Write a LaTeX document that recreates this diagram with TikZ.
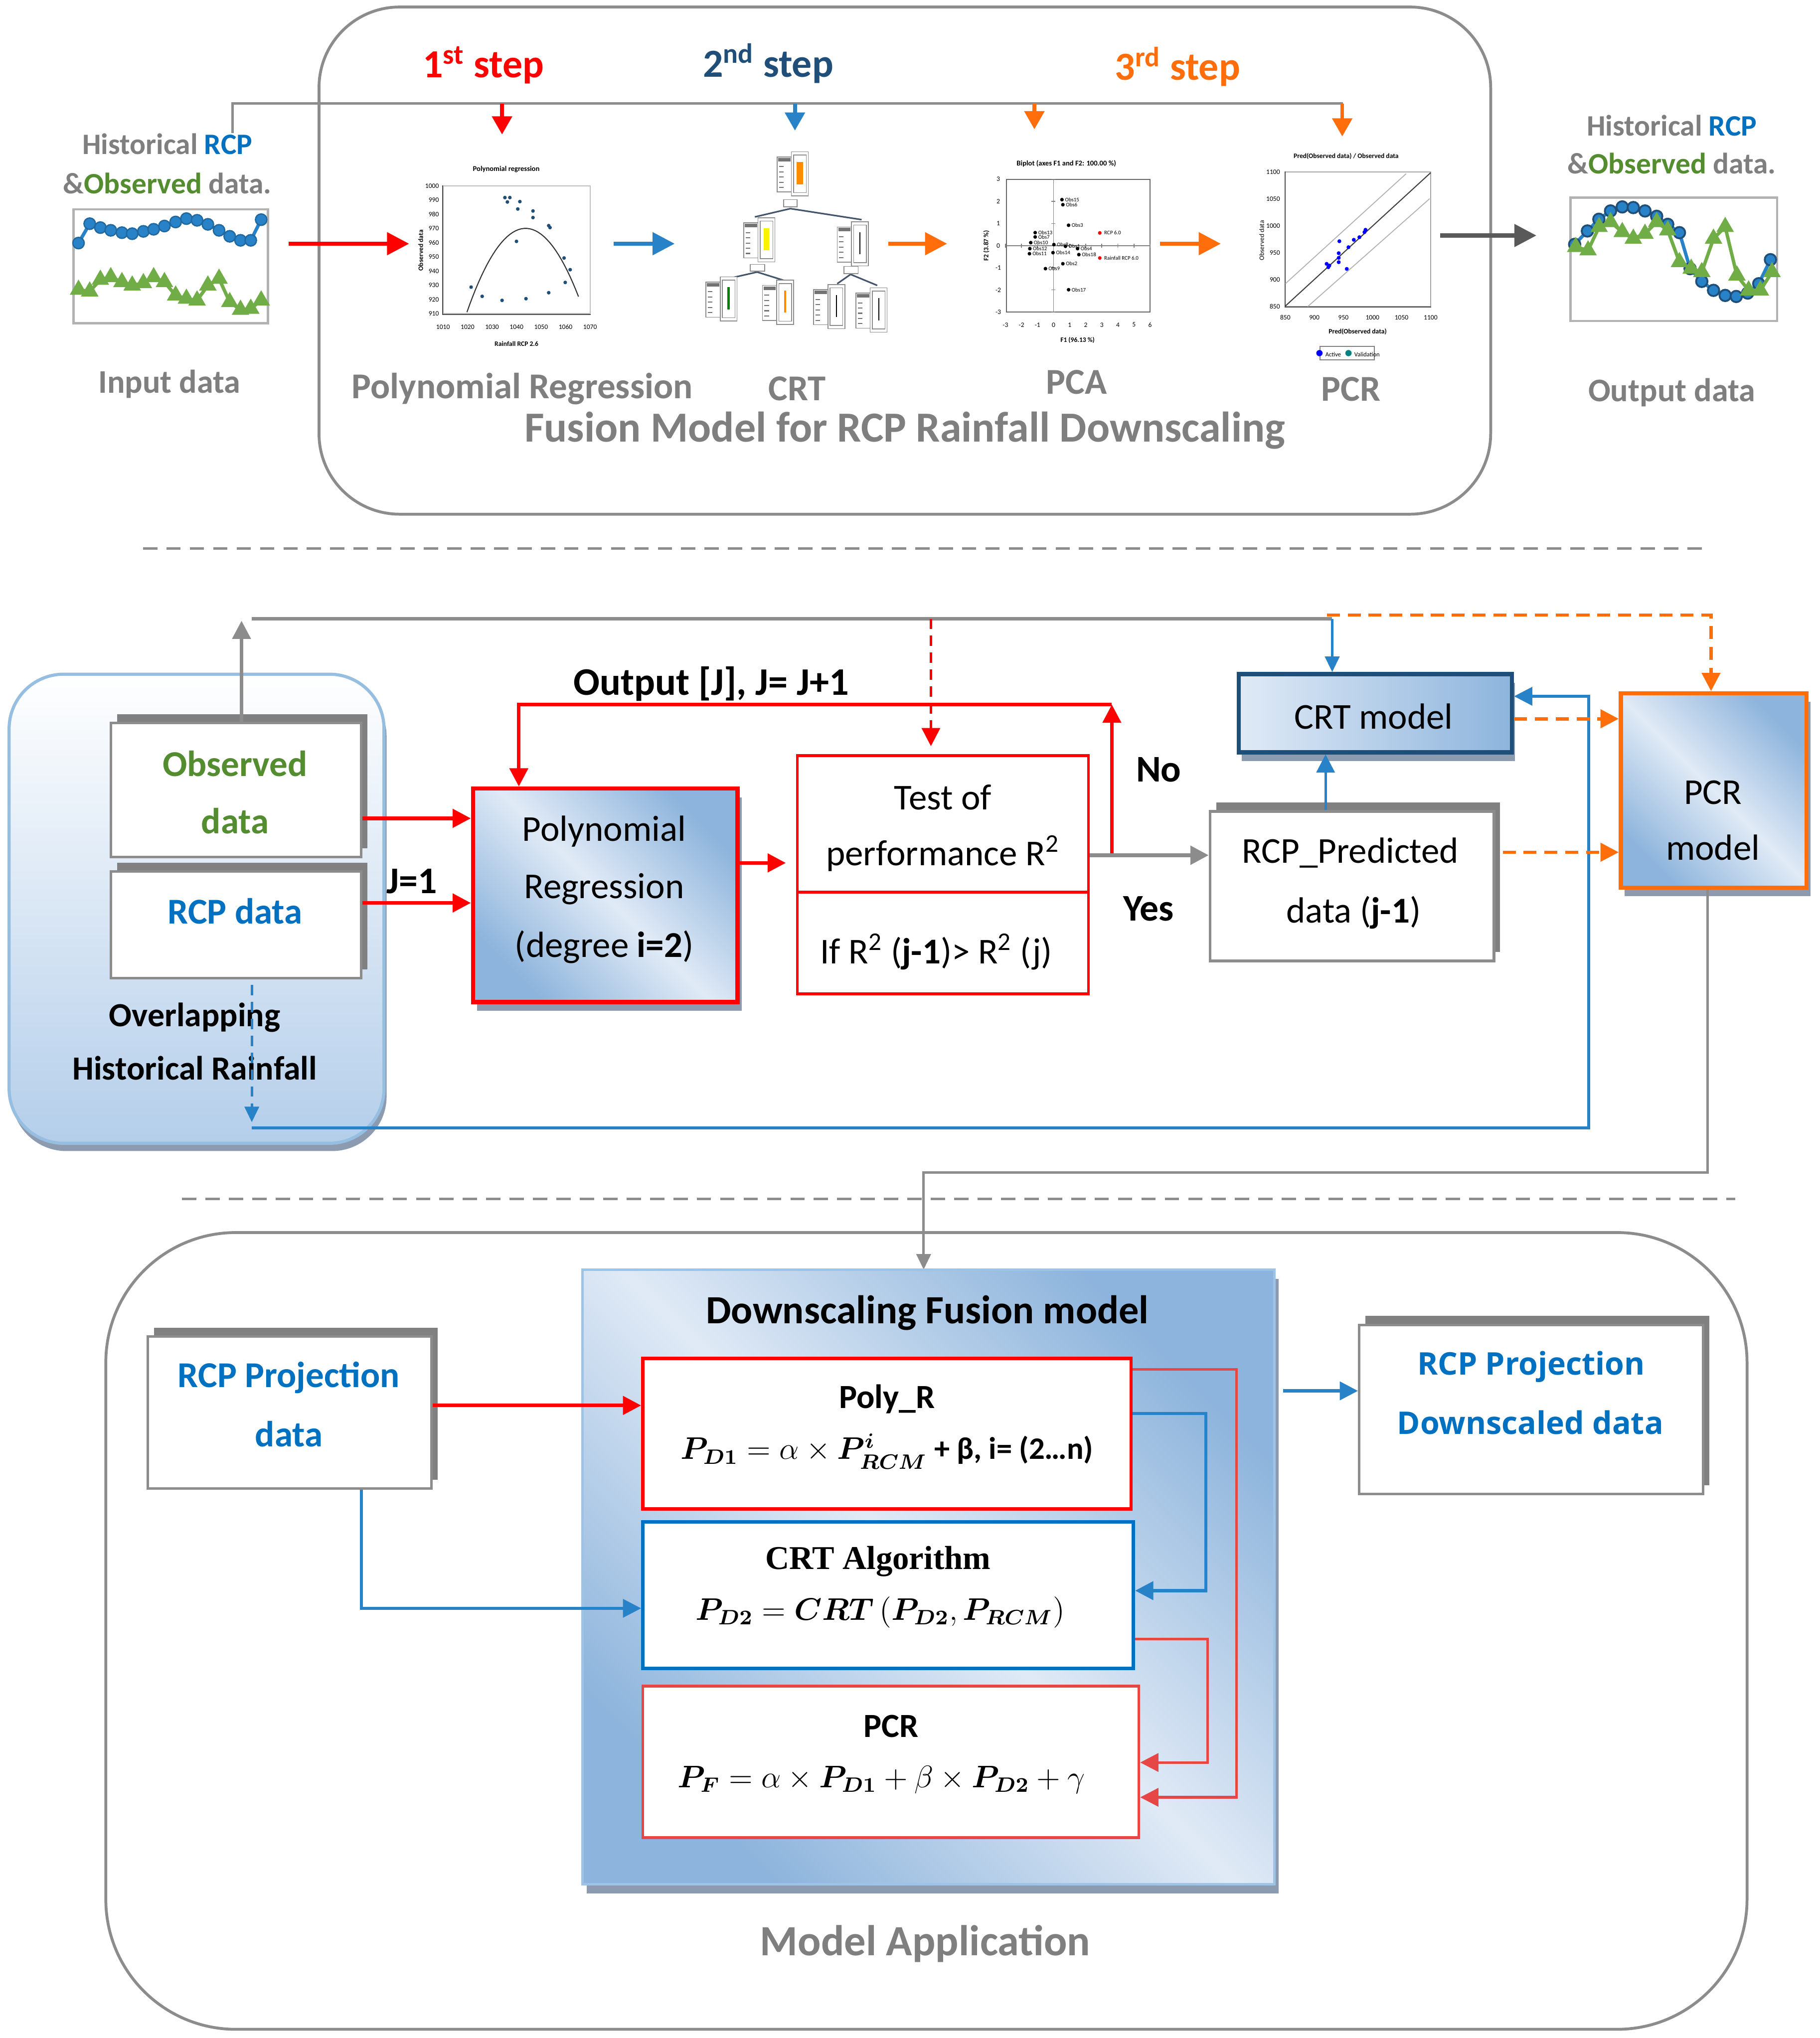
\documentclass[tikz,border=0pt]{standalone}
\usepackage{fontspec}
\setmainfont{Carlito}
\newfontfamily\segoe{Open Sans}
\newfontfamily\cambria{Liberation Serif}
\usetikzlibrary{arrows.meta,shadows,plotmarks,fit}
\definecolor{cred}{RGB}{255,0,0}
\definecolor{lred}{RGB}{230,70,70}
\definecolor{cblue}{RGB}{0,112,192}
\definecolor{ablue}{RGB}{40,130,200}
\definecolor{navy}{RGB}{31,78,121}
\definecolor{corange}{RGB}{255,110,10}
\definecolor{cgreen}{RGB}{84,140,48}
\definecolor{tgreen}{RGB}{112,173,71}
\definecolor{tgray}{RGB}{127,127,127}
\definecolor{lgray}{RGB}{140,140,140}
\definecolor{sgray}{RGB}{128,128,128}
\definecolor{shblue}{RGB}{140,155,175}
\definecolor{gdark}{RGB}{141,180,220}
\definecolor{glight}{RGB}{224,234,246}
\definecolor{bborder}{RGB}{150,190,225}
\definecolor{bbot}{RGB}{180,206,234}
\definecolor{fborder}{RGB}{157,195,230}
\definecolor{treeline}{RGB}{68,84,106}
\newcommand\bP[1]{\mbox{\boldmath$#1$}}
\newcommand\fz[1]{\fontsize{#1}{#1}\selectfont}
\tikzset{
  wbox/.style={draw=lgray, line width=1pt, fill=white, inner sep=0pt},
  shUR/.style={drop shadow={shadow xshift=2.4pt, shadow yshift=3.4pt, fill=sgray, opacity=1}},
  shDR/.style={drop shadow={shadow xshift=1.6pt, shadow yshift=-3.2pt, fill=shblue, opacity=1}},
  grad/.style={top color=gdark, bottom color=gdark, middle color=glight, shading angle=-45},
  lbl/.style={inner sep=0pt},
  arr/.style={-{Triangle[length=7pt,width=7pt]}},
  bigarr/.style={-{Triangle[length=8.5pt,width=8.5pt]}},
  sarr/.style={-{Triangle[length=6pt,width=5.5pt]}},
  leafline/.style={draw=black!45, line width=0.3pt, fill=white},
  tinytxt/.style={inner sep=0pt, font=\fz{2.6}},
}
\newcommand\crtleaf[4]{%
  \begin{scope}[shift={(#1,#2)}]
    \draw[leafline] (0,0) rectangle (11,27);
    \fill[black!55] (0.8,0.8) rectangle (10.2,3.4);
    \foreach \yy in {7.5,11.5,15.5,19.5,23.5}{\draw[black!55,line width=0.4pt] (1.5,\yy) -- (5,\yy);}
    \draw[leafline] (11,-4) rectangle (24,30);
    \draw[leafline] (12.6,-1.5) rectangle (22.4,27.5);
    \fill[#3] ({17.5-#4/2},4) rectangle ({17.5+#4/2},21);
  \end{scope}}
\begin{document}
\begin{tikzpicture}[x=0.5pt,y=-0.5pt]
\useasboundingbox (0,0) rectangle (1400,1568);
\fill[white] (0,0) rectangle (1400,1568);
% ================= TOP =================
\node[fit={(245.4,5.4) (1146.7,395.6)}, inner sep=0pt, draw=lgray, line width=1.1pt, rounded corners=31pt] (topframe) {};
% input data
\node[lbl, font=\bfseries\fz{11.4}, text=tgray] (hin1) at (128.7,110.9) {Historical \textcolor{cblue}{RCP}};
\node[lbl, font=\bfseries\fz{11.4}, text=tgray] (hin2) at (128.7,141.2) {\&\textcolor{cgreen}{Observed} data.};
\node[fit={(56.6,161) (206,248.6)}, inner sep=0pt, draw=black!30, line width=0.9pt] (inplot) {};
\draw[ablue, line width=1.3pt] plot[mark=*, mark size=2.2pt, mark options={fill=ablue, draw=ablue!80!black, line width=0.5pt}] coordinates {(60.4,187.0) (69.0,172.1) (77.2,175.1) (85.2,177.2) (93.8,179.0) (101.7,179.8) (110.3,178.0) (118.2,176.4) (126.5,173.9) (135.1,170.8) (143.4,168.2) (151.6,169.5) (159.9,172.6) (168.5,177.2) (176.7,181.8) (185.0,184.9) (192.9,184.9) (200.9,169.0)};
\draw[tgreen, line width=1.3pt] plot[mark=triangle*, mark size=2.6pt, mark options={fill=tgreen}] coordinates {(60.4,222.9) (69.0,224.2) (77.2,215.2) (85.2,213.2) (93.8,217.0) (101.7,219.6) (110.3,217.8) (118.2,213.2) (126.5,217.0) (135.1,227.3) (143.4,229.8) (151.6,231.1) (159.9,219.6) (168.5,214.4) (176.7,232.4) (185.0,238.3) (192.9,237.5) (200.9,231.1)};
\node[lbl, font=\bfseries\fz{12.7}, text=tgray] (inlbl) at (130.3,295.3) {Input data};
% step labels and top bracket
\node[lbl, font=\bfseries\fz{15.3}, text=cred] (s1) at (371.9,50.1) {1\textsuperscript{st} step};
\node[lbl, font=\bfseries\fz{15.3}, text=navy] (s2) at (590.9,48.8) {2\textsuperscript{nd} step};
\node[lbl, font=\bfseries\fz{15.3}, text=corange] (s3) at (905.9,51.4) {3\textsuperscript{rd} step};
\coordinate (br0) at (179,102.2);
\coordinate (br1) at (179,79.6);
\coordinate (br2) at (1032.9,79.6);
\draw[lgray, line width=1pt] (br0) -- (br1) -- (br2);
\coordinate (d1a) at (386.2,79.6); \coordinate (d1b) at (386.2,103.5);
\coordinate (d2a) at (611.5,79.6); \coordinate (d2b) at (611.5,100.5);
\coordinate (d3a) at (795.7,79.6); \coordinate (d3b) at (795.7,99.5);
\coordinate (d4a) at (1032.5,79.6); \coordinate (d4b) at (1032.5,105);
\draw[cred, line width=1.5pt, -{Triangle[length=7pt,width=7.5pt]}] (d1a) -- (d1b);
\draw[ablue, line width=1.5pt, -{Triangle[length=7pt,width=7.5pt]}] (d2a) -- (d2b);
\draw[corange, line width=1.5pt, -{Triangle[length=7pt,width=7.5pt]}] (d3a) -- (d3b);
\draw[corange, line width=1.5pt, -{Triangle[length=7pt,width=7.5pt]}] (d4a) -- (d4b);
% arrow input -> poly plot
\coordinate (ra1) at (221.9,187.5); \coordinate (ra2) at (314.7,187.5);
\draw[cred, line width=1.6pt, bigarr] (ra1) -- (ra2);
% polynomial regression chart
\node[fit={(340.8,143) (453.9,241.4)}, inner sep=0pt, draw=black!25, line width=0.4pt] (pplot) {};
\draw[black!70, line width=0.4pt] (pplot.north west) -- (pplot.south west) -- (pplot.south east);
\node[tinytxt, font=\bfseries\fz{2.8}] (pplott) at (389.4,130.2) {Polynomial regression};
\foreach \v [count=\i from 0] in {1000,990,980,970,960,950,940,930,920,910} \node[tinytxt, anchor=east] (ppy\i) at (338,143+\i*10.93) {\v};
\foreach \v [count=\i from 0] in {1010,1020,1030,1040,1050,1060,1070} \node[tinytxt] (ppx\i) at (340.8+\i*18.85,251.7) {\v};
\node[tinytxt, font=\bfseries\fz{2.6}, rotate=90] (ppyt) at (323.6,192.6) {Observed data};
\node[tinytxt, font=\bfseries\fz{2.6}] (ppxt) at (397.3,264.5) {Rainfall RCP 2.6};
\draw[black!80, line width=0.4pt] plot[domain=359.2:445, samples=40] (\x,{175.7+0.0317*(\x-404.3)*(\x-404.3)});
\foreach \px/\py in {362.4/220.9,370.9/228.0,386.2/231.1,388.4/152.0,390.3/155.4,392.2/152.0,397.3/185.7,398.3/160.8,399.9/155.1,404.6/229.8,410.0/162.3,410.0/167.4,422.1/173.6,423.1/175.1,422.1/225.2,433.9/198.5,434.8/217.3,438.6/207.5} \fill[navy] (\px,\py) circle (0.7pt);
% arrow -> CRT
\coordinate (ba1) at (472,187.5); \coordinate (ba2) at (519,187.5);
\draw[ablue, line width=1.6pt, bigarr] (ba1) -- (ba2);
% CRT tree
\draw[treeline, line width=0.6pt] (608,160.5) -- (580.7,166.9) (608,160.5) -- (662.8,169);
\draw[treeline, line width=0.6pt] (582.4,209.3) -- (560.1,214.4) (582.4,209.3) -- (602.9,215.7);
\draw[treeline, line width=0.6pt] (654.3,211.1) -- (644,218.3) (654.3,211.1) -- (674.8,219.6);
\draw[leafline] (602.9,153.6) rectangle (613.2,159.2);
\draw[leafline] (577.2,203.4) rectangle (588.2,208.5);
\draw[leafline] (649.1,204.9) rectangle (660.1,210.6);
\crtleaf{597.8}{120.7}{orange!90!yellow}{5}
\crtleaf{572.1}{171.5}{yellow}{4}
\crtleaf{644}{174.6}{black}{0.8}
\crtleaf{543}{217}{green!50!black}{1.8}
\crtleaf{586.5}{219.6}{orange!90!yellow}{1.8}
\crtleaf{625.9}{222.9}{black}{0.8}
\crtleaf{658.4}{225.5}{black}{0.8}
% arrow -> PCA
\coordinate (oa1) at (683.4,187.5); \coordinate (oa2) at (728.6,187.5);
\draw[corange, line width=1.6pt, bigarr] (oa1) -- (oa2);
% PCA biplot
\node[fit={(774.1,137.9) (884.7,240.1)}, inner sep=0pt, draw=black!60, line width=0.4pt] (pcaplot) {};
\node[tinytxt, font=\bfseries\fz{2.8}] (pcat) at (820.3,125.8) {Biplot (axes F1 and F2: 100.00 \%)};
\draw[black!50, line width=0.3pt] (810.4,137.9) -- (810.4,240.1);
\draw[black!50, line width=0.3pt] (774.1,189) -- (884.7,189);
\foreach \i in {0,...,9} \draw[black!50, line width=0.3pt] (773.4+\i*12.36,187.5) -- ++(0,3);
\foreach \i in {0,...,6} \draw[black!50, line width=0.3pt] (808.9,137.9+\i*17.03) -- ++(3,0);
\foreach \v [count=\i from 0] in {3,2,1,0,-1,-2,-3} \node[tinytxt] (pcay\i) at (767.9,137.9+\i*17.03) {\v};
\foreach \v [count=\i from 0] in {-3,-2,-1,0,1,2,3,4,5,6} \node[tinytxt] (pcax\i) at (773.4+\i*12.36,249.9) {\v};
\node[tinytxt, font=\bfseries\fz{2.6}] (pcaxt) at (828.9,261.9) {F1 (96.13 \%)};
\node[tinytxt, font=\bfseries\fz{2.6}, rotate=90] (pcayt) at (758.7,189) {F2 (3.87 \%)};
\foreach \px/\py/\tt [count=\k] in {816.9/153.6/Obs15,817.6/157.5/Obs6,822/173.3/Obs3,796.3/179/Obs13,796.3/182.3/Obs7,792.9/186.7/Obs10,792.2/191.3/Obs12,791.9/195.2/Obs11,810/194.4/Obs14,810.7/188.2/Obs8,819.6/189.5/Obs1,828.9/191.3/Obs4,829.9/195.9/Obs18,817.6/202.9/Obs2,804.2/206.7/Obs9,822/222.9/Obs17} {\fill[black] (\px,\py) circle (0.7pt); \node[tinytxt, font=\fz{2.1}, anchor=west] (pcal\k) at (\px+2,\py) {\tt};}
\foreach \px/\py/\tt [count=\k] in {846/179.2/RCP 6.0,846/198.5/Rainfall RCP 6.0} {\fill[red] (\px,\py) circle (0.7pt); \node[tinytxt, font=\fz{2.1}, anchor=west] (pcar\k) at (\px+3,\py) {\tt};}
% arrow -> PCR
\coordinate (ob1) at (892.2,187.5); \coordinate (ob2) at (939.1,187.5);
\draw[corange, line width=1.6pt, bigarr] (ob1) -- (ob2);
% PCR chart
\node[fit={(988.7,132.3) (1100.5,235.9)}, inner sep=0pt, draw=black!35, line width=0.3pt] (pcrplot) {};
\draw[black!70, line width=0.4pt] (pcrplot.north west) -- (pcrplot.south west) -- (pcrplot.south east);
\node[tinytxt, font=\bfseries\fz{2.6}] (pcrt) at (1035.5,120.3) {Pred(Observed data) / Observed data};
\foreach \v [count=\i from 0] in {1100,1050,1000,950,900,850} \node[tinytxt, anchor=east] (pcry\i) at (985,132.3+\i*20.7) {\v};
\foreach \v [count=\i from 0] in {850,900,950,1000,1050,1100} \node[tinytxt] (pcrx\i) at (988.7+\i*22.36,244.2) {\v};
\node[tinytxt, font=\bfseries\fz{2.6}] (pcrxt) at (1044.4,255.2) {Pred(Observed data)};
\node[tinytxt, font=\fz{2.6}, rotate=90] (pcryt) at (970.5,185) {Observed data};
\draw[black!75, line width=0.4pt] (988.7,235.5) -- (1100.5,132.9);
\draw[black!30, line width=0.35pt] (988.7,218.3) -- (1081.7,133.6);
\draw[black!30, line width=0.35pt] (1005.9,235.9) -- (1099.7,152.9);
\foreach \px/\py in {1020.5/203,1021.8/205.6,1022.6/204.3,1030.3/185.6,1029.8/194.8,1029.8/198.4,1029.8/201.7,1037.3/190.2,1041.4/184.5,1045.7/182.5,1049.6/178.6,1050.4/176.8,1036/206.9} \fill[blue] (\px,\py) circle (0.75pt);
\node[fit={(1015.4,266.5) (1057.3,277)}, inner sep=0pt, draw=black!50, line width=0.4pt] (pcrleg) {};
\node[tinytxt, font=\fz{2.4}] (pcrlegt) at (pcrleg.center) {\textcolor{blue}{$\bullet$}\,Active\ \ \textcolor{teal}{$\bullet$}\,Validation};
% arrow -> output
\coordinate (ga1) at (1107.9,181.2); \coordinate (ga2) at (1181.9,181.2);
\draw[black!65, line width=1.6pt, bigarr] (ga1) -- (ga2);
% output data
\node[lbl, font=\bfseries\fz{11.4}, text=tgray] (hout1) at (1286,96.4) {Historical \textcolor{cblue}{RCP}};
\node[lbl, font=\bfseries\fz{11.4}, text=tgray] (hout2) at (1286,125.9) {\&\textcolor{cgreen}{Observed} data.};
\node[fit={(1208,152) (1367,247)}, inner sep=0pt, draw=black!30, line width=0.9pt] (outplot) {};
\draw[ablue, line width=1.3pt] plot[mark=*, mark size=2.2pt, mark options={fill=ablue, draw=navy, line width=0.7pt}] coordinates {(1211.3,188.0) (1221.1,177.7) (1229.9,168.7) (1238.9,162.3) (1247.9,159.2) (1256.4,159.7) (1265.4,162.3) (1274.4,166.4) (1282.9,172.6) (1291.9,179.0) (1300.1,206.7) (1309.1,216.5) (1318.1,223.4) (1327.1,227.3) (1335.6,228.1) (1344.4,225.5) (1352.9,218.3) (1361.9,199.8)};
\draw[tgreen, line width=1.3pt] plot[mark=triangle*, mark size=2.6pt, mark options={fill=tgreen}] coordinates {(1212.1,190.0) (1221.6,192.6) (1230.1,174.6) (1238.9,170.8) (1247.9,178.5) (1256.4,183.6) (1265.4,179.8) (1274.4,170.8) (1282.9,177.2) (1291.9,201.6) (1300.9,206.7) (1309.1,209.3) (1318.1,183.6) (1327.1,174.6) (1336.1,211.9) (1345.1,223.4) (1354.1,223.4) (1363.1,209.3)};
\node[lbl, font=\bfseries\fz{12.7}, text=tgray] (outlbl) at (1286,302) {Output data};
% method labels
\node[lbl, font=\bfseries\fz{14}, text=tgray] (lpr) at (401.7,299.2) {Polynomial Regression};
\node[lbl, font=\bfseries\fz{14}, text=tgray] (lcrt) at (613.2,299.2) {CRT};
\node[lbl, font=\bfseries\fz{14}, text=tgray] (lpca) at (828.2,294) {PCA};
\node[lbl, font=\bfseries\fz{14}, text=tgray] (lpcr) at (1039.3,299.4) {PCR};
\node[lbl, font=\bfseries\fz{16.5}, text=tgray] (lfus) at (696,331.3) {Fusion Model for RCP Rainfall Downscaling};
% separator 1
\coordinate (sp1a) at (110,422); \coordinate (sp1b) at (1310,422);
\draw[lgray, line width=0.9pt, dash pattern=on 5.5pt off 3.5pt] (sp1a) -- (sp1b);
% ================= MIDDLE =================
\node[fit={(7,518.7) (295.4,879.6)}, inner sep=0pt, draw=bborder, line width=1.2pt, rounded corners=21pt, top color=white, bottom color=bbot, drop shadow={shadow xshift=1pt, shadow yshift=-3pt, fill=shblue, opacity=1}] (hist) {};
\node[wbox, shUR, fit={(85.3,556.2) (277.8,659.5)}] (obs) {};
\node[lbl, font=\bfseries\fz{14}, text=cgreen] (obs1) at (180.8,587.6) {Observed};
\node[lbl, font=\bfseries\fz{14}, text=cgreen] (obs2) at (180.8,631.6) {data};
\node[wbox, shUR, fit={(85.3,670.4) (277.8,752.5)}] (rcpd) {};
\node[lbl, font=\bfseries\fz{14}, text=cblue] (rcpd1) at (180.8,701.2) {RCP data};
\node[lbl, font=\bfseries\fz{13}] (ovl1) at (149.8,782.7) {Overlapping};
\node[lbl, font=\bfseries\fz{13}] (ovl2) at (149.8,821.8) {Historical Rainfall};
% polynomial regression box
\node[grad, draw=cred, line width=1.6pt, inner sep=0pt, fit={(363.8,606.7) (567.3,771)}, drop shadow={shadow xshift=1.6pt, shadow yshift=-3.4pt, fill=shblue, opacity=1}] (poly) {};
\node[lbl, font=\fz{14}] (poly1) at (464.8,639.5) {Polynomial};
\node[lbl, font=\fz{14}] (poly2) at (464.8,683.9) {Regression};
\node[lbl, font=\fz{14}] (poly3) at (464.8,728.5) {(degree \textbf{i=2})};
% test box
\node[draw=cred, line width=1.1pt, fill=white, inner sep=0pt, fit={(613.3,581.2) (837.3,764.6)}] (test) {};
\coordinate (dv) at (0,686.5);
\draw[cred, line width=1.1pt] (test.west |- dv) -- (test.east |- dv);
\node[lbl, font=\fz{14}] (test1) at (725.3,613.4) {Test of};
\node[lbl, font=\fz{14}] (test2) at (725.3,656.6) {performance R\textsuperscript{2}};
\node[lbl, font=\fz{14}] (test3) at (720.2,732.3) {If R\textsuperscript{2} (\textbf{j-1})> R\textsuperscript{2} (j)};
% predicted box
\node[wbox, shUR, fit={(930.8,624.3) (1149.2,739.3)}] (pred) {};
\node[lbl, font=\fz{14}] (pred1) at (1038.7,656) {RCP\_Predicted};
\node[lbl, font=\fz{14}] (pred2) at (1041.3,702.1) {data (\textbf{j-1})};
% CRT model
\node[left color=glight, right color=gdark, draw=navy, line width=1.6pt, inner sep=0pt, fit={(952.9,518.7) (1163.1,578.8)}, drop shadow={shadow xshift=1.2pt, shadow yshift=-3.3pt, fill=shblue, opacity=1}] (crt) {};
\node[lbl, font=\fz{14}] (crt1) at (1056.7,551) {CRT model};
% PCR model
\node[grad, draw=corange, line width=1.6pt, inner sep=0pt, fit={(1246.8,533.3) (1389.6,683)}, drop shadow={shadow xshift=1.5pt, shadow yshift=-3.3pt, fill=shblue, opacity=1}] (pcrm) {};
\node[lbl, font=\fz{14}] (pcrm1) at (1317.7,609.6) {PCR};
\node[lbl, font=\fz{14}] (pcrm2) at (1317.7,652.2) {model};
% labels
\node[lbl, font=\bfseries\fz{15}] (outj) at (547,526) {Output [J], J= J+1};
\node[lbl, font=\bfseries\fz{14.5}] (j1l) at (316.9,678) {J=1};
\node[lbl, font=\bfseries\fz{14.5}] (nol) at (891.3,592) {No};
\node[lbl, font=\bfseries\fz{14.5}] (yesl) at (883.5,699.1) {Yes};
% middle connectors
\coordinate (gup) at (185.8,477.6);
\draw[lgray, line width=1.3pt, arr] (obs.north -| gup) -- (gup);
\coordinate (gl1) at (193.7,476.1); \coordinate (gl2) at (1024.8,476.1);
\draw[lgray, line width=1.2pt] (gl1) -- (gl2);
\draw[ablue, line width=1pt, sarr] (gl2) -- (crt.north -| gl2);
\coordinate (or1) at (1020.7,473.2); \coordinate (or2) at (1316.2,473.2);
\draw[corange, line width=1.2pt, dash pattern=on 5pt off 3pt, arr] (or1) -- (or2) -- (pcrm.north -| or2);
\coordinate (rd1) at (716.1,476.1);
\draw[cred, line width=1pt, dash pattern=on 4pt off 2.5pt, arr] (rd1) -- ([yshift=3pt]test.north -| rd1);
\coordinate (bd1) at (193.7,757.8); \coordinate (bd2) at (193.7,863.4);
\draw[ablue, line width=1pt, dash pattern=on 4pt off 2.5pt, sarr] (bd1) -- (bd2);
\coordinate (bl1) at (193.7,867.8); \coordinate (bl2) at (1222.1,867.8); \coordinate (bl3) at (1222.1,535.7);
\draw[ablue, line width=1pt, arr] (bl1) -- (bl2) -- (bl3) -- (crt.east |- bl3);
\coordinate (j1) at (0,629.6); \coordinate (j2) at (0,694.7);
\draw[cred, line width=1.4pt, arr] (obs.east |- j1) -- (poly.west |- j1);
\draw[cred, line width=1.4pt, arr] (rcpd.east |- j2) -- (poly.west |- j2);
\coordinate (pt1) at (604.5,663.9);
\draw[cred, line width=1.4pt, arr] (poly.east |- pt1) -- (pt1);
\coordinate (no1) at (855.3,658); \coordinate (no2) at (855.3,542.1); \coordinate (no3) at (399.1,542.1);
\draw[cred, line width=1.3pt, arr] (no1) -- (no2);
\draw[cred, line width=1.3pt, arr] (no2) -- (no3) -- (poly.north -| no3);
\coordinate (ys) at (0,658);
\draw[lgray, line width=1.5pt, arr] (test.east |- ys) -- (pred.west |- ys);
\coordinate (pc) at (1019.7,0);
\draw[ablue, line width=1pt, arr] (pred.north -| pc) -- (crt.south -| pc);
\coordinate (oc) at (0,553);
\draw[corange, line width=1.3pt, dash pattern=on 5pt off 3pt, arr] (crt.east |- oc) -- (pcrm.west |- oc);
\coordinate (op1) at (1156,655.7);
\draw[corange, line width=1.3pt, dash pattern=on 5pt off 3pt, arr] (op1) -- (pcrm.west |- op1);
\coordinate (gd1) at (1313.6,902); \coordinate (gd2) at (710.5,902);
\draw[lgray, line width=1pt, sarr] (pcrm.south -| gd1) -- (gd1) -- (gd2) -- (710.5,976.8);
% separator 2
\coordinate (sp2a) at (140,922.3); \coordinate (sp2b) at (1334.7,922.3);
\draw[lgray, line width=0.9pt, dash pattern=on 5.5pt off 3.5pt] (sp2a) -- (sp2b);
% ================= BOTTOM =================
\node[fit={(81.4,948.3) (1343.9,1561.3)}, inner sep=0pt, draw=lgray, line width=1.1pt, rounded corners=50pt] (botframe) {};
\node[grad, draw=fborder, line width=1pt, inner sep=0pt, fit={(448.2,976.8) (980.4,1449.7)}, drop shadow={shadow xshift=1.6pt, shadow yshift=-3.6pt, fill=shblue, opacity=1}] (fusion) {};
\node[lbl, font=\bfseries\fz{15.4}] (fust) at (713.4,1010.2) {Downscaling Fusion model};
\node[draw=cred, line width=1.3pt, fill=white, inner sep=0pt, fit={(494.5,1045) (870.1,1161)}] (polyR) {};
\node[lbl, font=\bfseries\fz{13}] (polyRt) at (682.3,1076.3) {Poly\_R};
\node[lbl, font=\fz{12}] (polyRf) at (682.3,1116.5) {$\bP{P_{D1}} = \alpha\times\bP{P^{i}_{RCM}}$\textbf{ + β, i= (2…n)}};
\node[draw=cblue, line width=1.3pt, fill=white, inner sep=0pt, fit={(494.5,1170.9) (871.9,1283.7)}] (crtA) {};
\node[lbl, font=\cambria\bfseries\fz{12.8}] (crtAt) at (675.3,1201.1) {CRT Algorithm};
\node[lbl, font=\fz{12}] (crtAf) at (677,1240.3) {$\bP{P_{D2}} = \bP{CRT}\,(\bP{P_{D2}},\bP{P_{RCM}})$};
\node[draw=lred, line width=1.1pt, fill=white, inner sep=0pt, fit={(494.5,1297.3) (876,1413.8)}] (pcrB) {};
\node[lbl, font=\bfseries\fz{13}] (pcrBt) at (685.3,1328.3) {PCR};
\node[lbl, font=\fz{12}] (pcrBf) at (678,1369.2) {$\bP{P_F} = \alpha\times\bP{P_{D1}} + \beta\times\bP{P_{D2}} + \gamma$};
% projection box
\node[wbox, shUR, fit={(113.7,1028.4) (332,1145.3)}] (proj) {};
\node[lbl, font=\bfseries\fz{14}, text=cblue] (proj1) at (222.2,1059.8) {RCP Projection};
\node[lbl, font=\bfseries\fz{14}, text=cblue] (proj2) at (222.2,1103.2) {data};
% downscaled box
\node[wbox, shUR, fit={(1045.6,1019.3) (1310.2,1149.4)}] (down) {};
\node[lbl, font=\segoe\bfseries\fz{12}, text=cblue] (down1) at (1177.8,1051.6) {RCP Projection};
\node[lbl, font=\segoe\bfseries\fz{12}, text=cblue] (down2) at (1177.2,1094.5) {Downscaled data};
\node[lbl, font=\bfseries\fz{16.6}, text=tgray] (mapp) at (711.7,1495.6) {Model Application};
% bottom connectors
\coordinate (b1) at (0,1081.3);
\draw[cred, line width=1.4pt, arr] (proj.east |- b1) -- (polyR.west |- b1);
\coordinate (b2) at (278,1237.4);
\draw[ablue, line width=1pt, arr] (proj.south -| b2) -- (b2) -- (crtA.west |- b2);
\coordinate (b3a) at (927.6,1087.5); \coordinate (b3b) at (927.6,1223.8);
\draw[ablue, line width=1.3pt, arr] (polyR.east |- b3a) -- (b3a) -- (b3b) -- (crtA.east |- b3b);
\coordinate (b4a) at (951.1,1053.6); \coordinate (b4b) at (951.1,1382.8);
\draw[lred, line width=1pt, arr] (polyR.east |- b4a) -- (b4a) -- (b4b) -- (pcrB.east |- b4b);
\coordinate (b5a) at (928.8,1261); \coordinate (b5b) at (928.8,1356);
\draw[lred, line width=1pt, arr] (crtA.east |- b5a) -- (b5a) -- (b5b) -- (pcrB.east |- b5b);
\coordinate (b6) at (986.9,1070.1);
\draw[ablue, line width=1.2pt, arr] (b6) -- (down.west |- b6);
\end{tikzpicture}
\end{document}
